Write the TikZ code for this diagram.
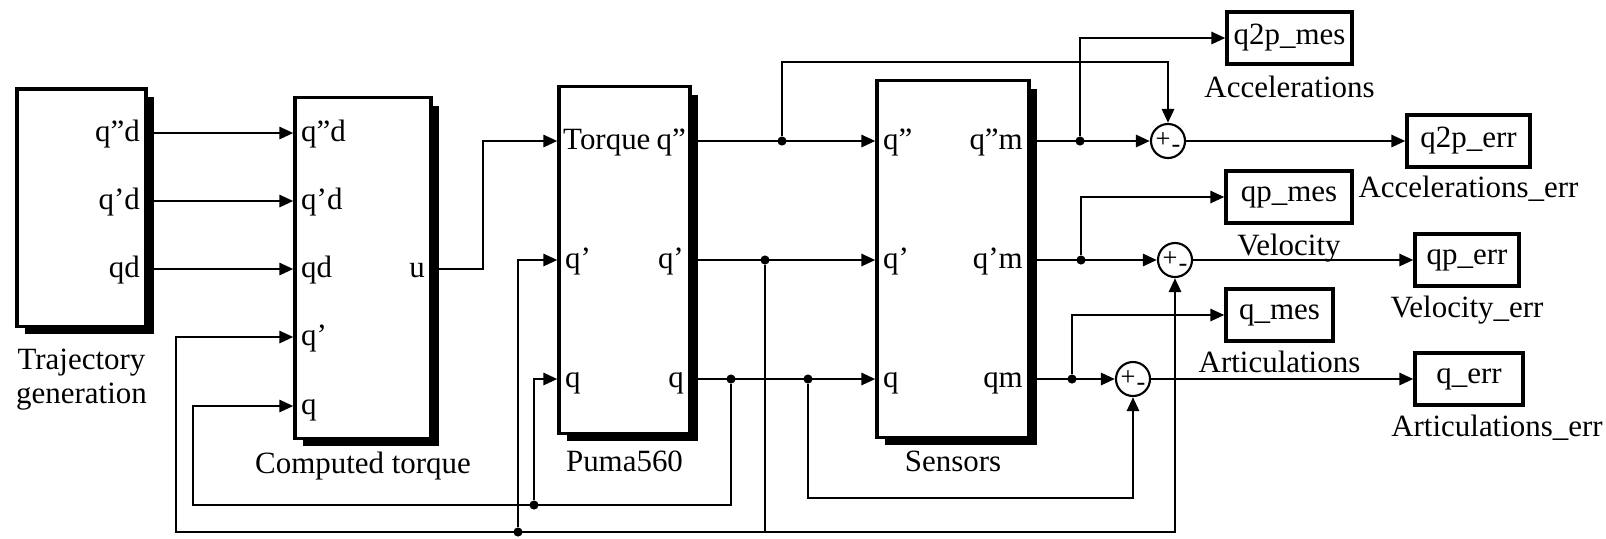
\documentclass[tikz,border=0pt]{standalone}
\usepackage{fontspec}
\setmainfont{Liberation Serif}
\usetikzlibrary{arrows.meta,positioning,shadows}

\begin{document}
\begin{tikzpicture}[
    x=0.01cm, y=0.01cm,
    font=\fontsize{8.8}{9.6}\selectfont,
    block/.style={draw, line width=0.9pt, fill=white, inner sep=0pt,
      drop shadow={shadow xshift=0.8mm, shadow yshift=-0.8mm, opacity=1, fill=black}},
    outbox/.style={draw, line width=0.9pt, fill=white, minimum height=5.2mm, inner sep=0pt},
    sumnode/.style={circle, draw, line width=0.6pt, minimum size=3.4mm, inner sep=0pt},
    sumsign/.style={font=\fontsize{7.5}{7.5}\selectfont, inner sep=0pt},
    inport/.style={anchor=west, inner sep=1pt, text height=0.68em, text depth=0.2em},
    outport/.style={anchor=east, inner sep=1pt, text height=0.68em, text depth=0.2em},
    blocklabel/.style={align=center, inner sep=0pt},
    junc/.style={circle, fill, inner sep=0pt, minimum size=2.6pt},
    wire/.style={-{Triangle[length=1.4mm, width=1.2mm]}, line width=0.8pt},
    link/.style={line width=0.8pt}
  ]
  \useasboundingbox (0,0) rectangle (1606,-538);

  % blocks
  \node[block, minimum width=1.29cm, minimum height=2.37cm] (traj) at (81.5,-207.5) {};
  \node[block, minimum width=1.36cm, minimum height=3.40cm] (ct) at (363,-268) {};
  \node[block, minimum width=1.31cm, minimum height=3.46cm] (puma) at (624.5,-260) {};
  \node[block, minimum width=1.52cm, minimum height=3.56cm] (sens) at (953,-259) {};

  \node[blocklabel, below=2.1mm of traj] (traj-lab) {Trajectory\\generation};
  \node[blocklabel, below=1.2mm of ct] (ct-lab) {Computed torque};
  \node[blocklabel, below=1.6mm of puma] (pu-lab) {Puma560};
  \node[blocklabel, below=1.2mm of sens] (se-lab) {Sensors};

  % ports
  \node[outport] (tr-qdd) at (144,-133) {q”d};
  \node[outport] (tr-qd) at (144,-201) {q’d};
  \node[outport] (tr-q) at (144,-269) {qd};

  \node[inport] (ct-qdd) at (297,-133) {q”d};
  \node[inport] (ct-qd) at (297,-201) {q’d};
  \node[inport] (ct-qq) at (297,-269) {qd};
  \node[inport] (ct-qp) at (297,-337) {q’};
  \node[inport] (ct-q) at (297,-406) {q};
  \node[outport] (ct-u) at (429,-269) {u};

  \node[inport] (pu-tq) at (559,-141) {Torque};
  \node[inport] (pu-iqp) at (561,-260) {q’};
  \node[inport] (pu-iq) at (561,-379) {q};
  \node[outport] (pu-oqpp) at (690,-141) {q”};
  \node[outport] (pu-oqp) at (688,-260) {q’};
  \node[outport] (pu-oq) at (688,-379) {q};

  \node[inport] (se-iqpp) at (879,-141) {q”};
  \node[inport] (se-iqp) at (879,-260) {q’};
  \node[inport] (se-iq) at (879,-379) {q};
  \node[outport] (se-oqpp) at (1027,-141) {q”m};
  \node[outport] (se-oqp) at (1027,-260) {q’m};
  \node[outport] (se-oq) at (1027,-379) {qm};

  % sums
  \node[sumnode] (s1) at (1168,-141) {};
  \node[sumnode] (s2) at (1175,-260) {};
  \node[sumnode] (s3) at (1133,-379) {};
  \node[sumsign] (s1p) at ([shift={(-5,1)}]s1.center) {+};
  \node[sumsign] (s1m) at ([shift={(8,-8)}]s1.center) {-};
  \node[sumsign] (s2p) at ([shift={(-5,1)}]s2.center) {+};
  \node[sumsign] (s2m) at ([shift={(8,-8)}]s2.center) {-};
  \node[sumsign] (s3p) at ([shift={(-5,1)}]s3.center) {+};
  \node[sumsign] (s3m) at ([shift={(8,-8)}]s3.center) {-};

  % outputs
  \node[outbox, minimum width=1.25cm] (q2pm) at (1289.5,-38) {q2p\_mes};
  \node[outbox, minimum width=1.23cm] (q2pe) at (1468.5,-141) {q2p\_err};
  \node[outbox, minimum width=1.26cm] (qpm) at (1289,-197) {qp\_mes};
  \node[outbox, minimum width=1.04cm] (qpe) at (1467,-260) {qp\_err};
  \node[outbox, minimum width=1.07cm] (qm) at (1279.5,-315) {q\_mes};
  \node[outbox, minimum width=1.08cm] (qe) at (1469,-379) {q\_err};

  \node[blocklabel, below=1mm of q2pm] (q2pm-lab) {Accelerations};
  \node[blocklabel, below=0.7mm of q2pe] (q2pe-lab) {Accelerations\_err};
  \node[blocklabel, below=0.9mm of qpm] (qpm-lab) {Velocity};
  \node[blocklabel, below=0.8mm of qpe] (qpe-lab) {Velocity\_err};
  \node[blocklabel, below=0.8mm of qm] (qm-lab) {Articulations};
  \node[blocklabel, below=0.8mm of qe, xshift=2.8mm] (qe-lab) {Articulations\_err};

  % branch points
  \node[junc] (j-acc) at (782,-141) {};
  \node[junc] (j-vel) at (765,-260) {};
  \node[junc] (j-pos) at (731,-379) {};
  \node[junc] (j-err) at (808,-379) {};
  \node[junc] (j-bq) at (534,-505) {};
  \node[junc] (j-bqp) at (518,-532) {};
  \node[junc] (j-m1) at (1080,-141) {};
  \node[junc] (j-m2) at (1081,-260) {};
  \node[junc] (j-m3) at (1072,-379) {};
  \coordinate (c-top) at (782,-62);
  \coordinate (c-bot) at (765,-532);
  \coordinate (c-ctqp) at (176,-532);
  \coordinate (c-ctq) at (193,-505);
  \coordinate (c-err) at (808,-498);
  \coordinate (c-u) at (483,-269);

  % trajectory -> computed torque -> robot
  \draw[wire] (traj.east |- tr-qdd) -- (ct.west |- ct-qdd);
  \draw[wire] (traj.east |- tr-qd) -- (ct.west |- ct-qd);
  \draw[wire] (traj.east |- tr-q) -- (ct.west |- ct-qq);
  \draw[wire] (ct.east |- ct-u) -- (c-u) |- (puma.west |- pu-tq);

  % robot -> sensors
  \draw[wire] (puma.east |- pu-oqpp) -- (sens.west |- se-iqpp);
  \draw[wire] (puma.east |- pu-oqp) -- (sens.west |- se-iqp);
  \draw[wire] (puma.east |- pu-oq) -- (sens.west |- se-iq);

  % feedback loops
  \draw[link] (j-vel) -- (c-bot);
  \draw[wire] (c-bot) -- (c-ctqp) |- (ct.west |- ct-qp);
  \draw[wire] (c-bot) -| (s2.south);
  \draw[wire] (j-bqp) |- (puma.west |- pu-iqp);
  \draw[wire] (j-pos) |- (c-ctq) |- (ct.west |- ct-q);
  \draw[wire] (j-bq) |- (puma.west |- pu-iq);
  \draw[wire] (j-err) -- (c-err) -| (s3.south);
  \draw[wire] (j-acc) -- (c-top) -| (s1.north);

  % measures and errors
  \draw[wire] (sens.east |- se-oqpp) -- (s1.west);
  \draw[wire] (j-m1) |- (q2pm.west);
  \draw[wire] (s1.east) -- (q2pe.west);
  \draw[wire] (sens.east |- se-oqp) -- (s2.west);
  \draw[wire] (j-m2) |- (qpm.west);
  \draw[wire] (s2.east) -- (qpe.west);
  \draw[wire] (sens.east |- se-oq) -- (s3.west);
  \draw[wire] (j-m3) |- (qm.west);
  \draw[wire] (s3.east) -- (qe.west);
\end{tikzpicture}
\end{document}
